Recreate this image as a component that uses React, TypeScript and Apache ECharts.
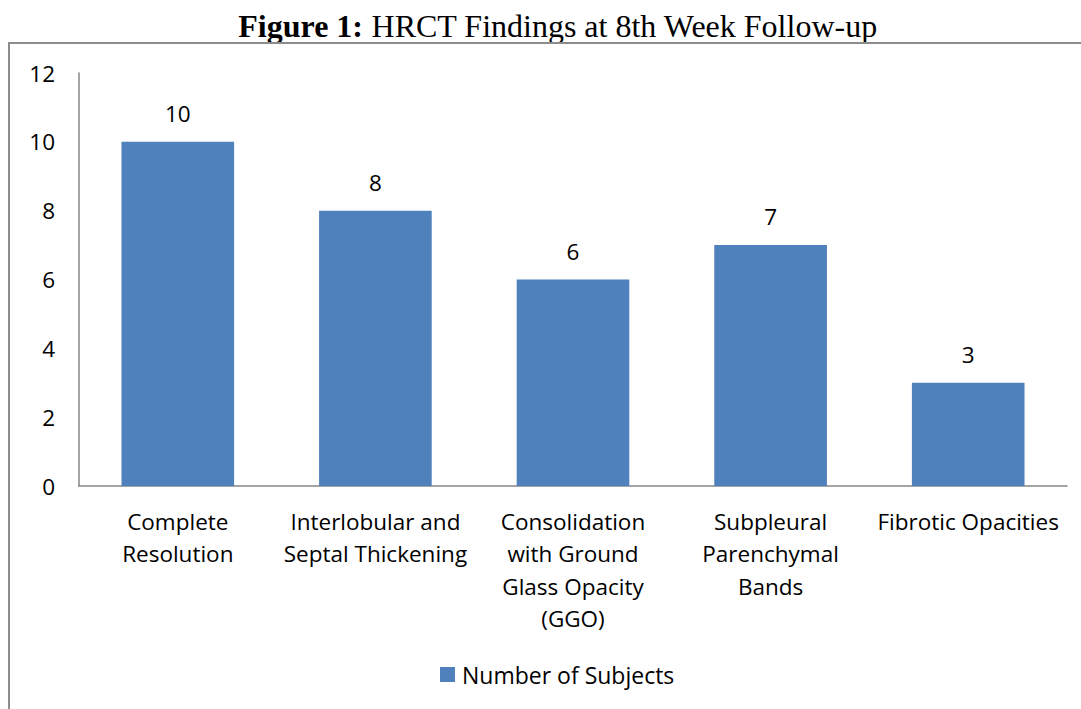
import React, { useEffect, useRef } from "react";
import * as echarts from "echarts";

const categories = [
  "Complete\nResolution",
  "Interlobular and\nSeptal Thickening",
  "Consolidation\nwith Ground\nGlass Opacity\n(GGO)",
  "Subpleural\nParenchymal\nBands",
  "Fibrotic Opacities",
];
const subjects = [10, 8, 6, 7, 3];
const seriesName = "Number of Subjects";

export default function App() {
  const ref = useRef<HTMLDivElement>(null);
  useEffect(() => {
    if (!ref.current) return;
    const chart = echarts.init(ref.current, null, { renderer: "svg" });
    const font = "'Open Sans', Lato, sans-serif";
    const fs = 22.5;
    chart.setOption({
      animation: false,
      backgroundColor: "#ffffff",
      title: {
        text: "{b|Figure 1:} HRCT Findings at 8th Week Follow-up",
        left: 553,
        textAlign: "center",
        top: 5,
        textStyle: {
          fontFamily: "'Liberation Serif', 'Times New Roman', serif",
          fontSize: 32,
          fontWeight: "normal",
          color: "#000",
          rich: {
            b: {
              fontFamily: "'Liberation Serif', 'Times New Roman', serif",
              fontSize: 32,
              fontWeight: "bold",
              color: "#000",
            },
          },
        },
      },
      graphic: [
        {
          type: "polyline",
          shape: { points: [[9, 709], [9, 43], [1081, 43]] },
          style: { stroke: "#8c8c8c", lineWidth: 2, fill: null },
          z: 10,
        },
      ],
      legend: {
        bottom: 23,
        left: 440,
        itemWidth: 15,
        itemHeight: 15,
        itemGap: 8,
        padding: 0,
        icon: "rect",
        textStyle: { fontFamily: font, fontSize: 23, color: "#000", padding: [0, 0, 0, 2] },
        data: [seriesName],
      },
      grid: { left: 79, right: 14, top: 73, bottom: 223 },
      xAxis: {
        type: "category",
        data: categories,
        axisLine: { lineStyle: { color: "#868686", width: 1.5 } },
        axisTick: { show: false },
        axisLabel: {
          interval: 0,
          margin: 19,
          fontFamily: font,
          fontSize: fs,
          lineHeight: 32.5,
          color: "#000",
        },
      },
      yAxis: {
        type: "value",
        min: 0,
        max: 12,
        interval: 2,
        axisLine: { show: true, lineStyle: { color: "#868686", width: 1.5 } },
        axisTick: { show: false },
        splitLine: { show: false },
        axisLabel: {
          margin: 24,
          fontFamily: font,
          fontSize: fs,
          color: "#000",
        },
      },
      series: [
        {
          name: seriesName,
          type: "bar",
          data: subjects,
          barWidth: "57%",
          itemStyle: { color: "#4f81bd" },
          label: {
            show: true,
            position: "top",
            distance: 17,
            fontFamily: font,
            fontSize: fs,
            color: "#000",
          },
        },
      ],
    });
    return () => chart.dispose();
  }, []);
  return (
    <div
      ref={ref}
      style={{ position: "fixed", left: 0, top: 0, width: 1081, height: 709 }}
    />
  );
}
